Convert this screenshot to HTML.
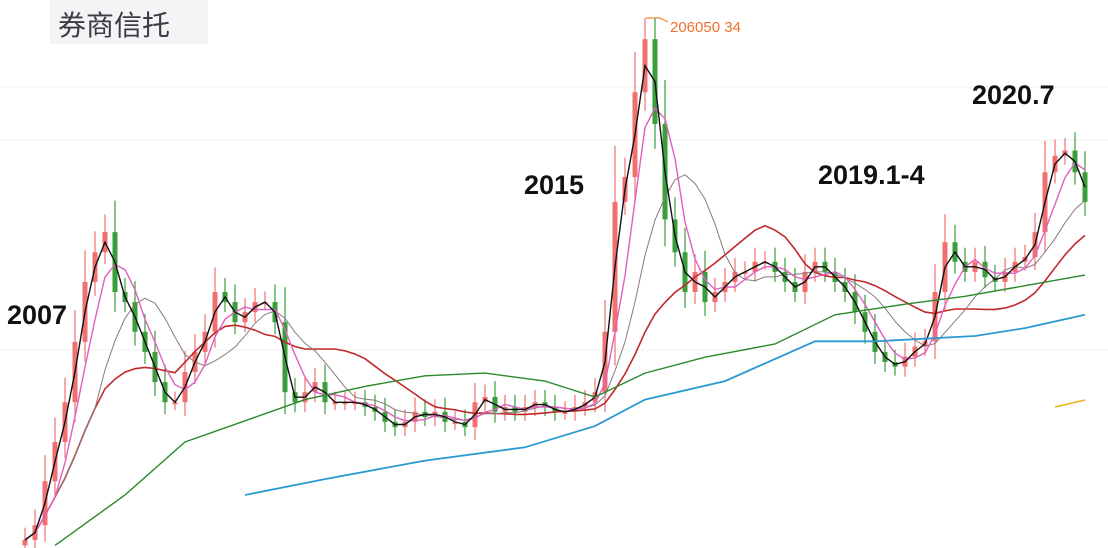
<!DOCTYPE html>
<html><head><meta charset="utf-8">
<style>
body{margin:0;width:1108px;height:548px;overflow:hidden;background:#fff;font-family:"Liberation Sans","Noto Sans CJK SC",sans-serif}
#title{position:absolute;left:50px;top:0;width:158px;height:44px;background:#f4f4f6;color:#3a3a40;font-size:28px;line-height:48px;padding-left:8px;box-sizing:border-box;font-family:"Noto Sans CJK SC",sans-serif}
.ann{position:absolute;font-size:27px;font-weight:bold;color:#111;font-family:"Liberation Sans",sans-serif}
</style></head><body>
<svg id="chart" width="1108" height="548" style="position:absolute;left:0;top:0"></svg>
<div id="title">券商信托</div>
<div class="ann" style="left:7px;top:300px">2007</div>
<div class="ann" style="left:524px;top:170px">2015</div>
<div class="ann" style="left:818px;top:160px">2019.1-4</div>
<div class="ann" style="left:972px;top:80px">2020.7</div>
<script>
// values in index units: 0 = bottom (y=548), 100 = peak (y=18)
const closes=[1.5,4.3,12.6,20,27.5,38.9,50.2,55.8,59.6,48.3,46.4,40.8,37,31.3,27.5,27.5,33.2,37,40.8,48.3,46.4,42.6,44.5,46.4,46.4,42.6,29.4,27.5,29.4,31.3,27.5,27.5,27.5,27.5,26.6,25.7,23.8,22.8,23.8,25.7,24.7,25.7,23.8,23.8,22.8,27.5,28.5,25.7,26.6,25.7,26.6,27.5,26.6,25.7,25.7,26.6,27.5,29.4,40.8,65.3,70,86,96,80,62,55.8,48.3,52.1,46.4,48.3,50.2,52.1,52.1,54,54,52.1,50.2,48.3,52.1,54,52.1,50.2,48.3,44.5,40.8,37,35.1,34.2,36.1,38,39,48.3,57.7,54,52.1,54,51.1,50.2,52.1,54,54.9,59.6,70.9,74,75,70.9,65.3];
const greenMA=[[3,0.5],[10,10],[16,20],[22,24],[28,28],[34,30.5],[40,32.5],[46,33],[52,31.5],[57,28.5],[62,33],[68,36],[75,38.5],[81,44],[88,46],[94,47.5],[100,49.5],[106,51.5]];
const blueMA=[[22,10],[30,13],[40,16.5],[50,19],[57,23],[62,28],[70,31.5],[79,39],[85,39],[95,40],[100,41.5],[106,44]];
const peakLabel="206050.34";
const svg=document.getElementById('chart');const NS='http://www.w3.org/2000/svg';
const X0=25,DX=10;
const xs=i=>X0+i*DX; const ys=v=>548-v*5.3;
function mk(t,a,p){const e=document.createElementNS(NS,t);for(const k in a)e.setAttribute(k,a[k]);(p||svg).appendChild(e);return e;}
[87,140,350].forEach(y=>{const g=mk('line',{x1:0,x2:1108,y1:y,y2:y,stroke:'#f2f2f2'});

});
const cg=mk('g',{});


closes.forEach((c,i)=>{const o=i?closes[i-1]:c-1;const up=c>=o;const col=up?'#f07070':'#3a9e3a';
 const d=Math.abs(c-o);
 const hi=Math.min(100,Math.max(o,c)+2+d*0.35),lo=Math.min(o,c)-1.5-d*0.2;
 const w=mk('line',{x1:xs(i),x2:xs(i),y1:ys(hi),y2:ys(lo),stroke:col,'stroke-width':1.2},cg);
 
 
 const top=ys(Math.max(o,c)),h=Math.max(2,Math.abs(ys(o)-ys(c)));
 const r=mk('rect',{x:xs(i)-2.5,y:top,width:5,height:h,fill:col},cg);
 
 });
function ma(n){return closes.map((_,i)=>{const s=closes.slice(Math.max(0,i-n+1),i+1);return s.reduce((a,b)=>a+b,0)/s.length;});}
function line(pts,col,name,w){const p=mk('polyline',{points:pts.map(q=>q[0].toFixed(1)+','+q[1].toFixed(1)).join(' '),fill:'none',stroke:col,'stroke-width':w||1.4});
 
 }
line(ma(16).map((v,i)=>[xs(i),ys(v)]),'#c0282a','ma-red',1.6);
line(ma(8).map((v,i)=>[xs(i),ys(v)]),'#8a7a7a','ma-gray',1);
line(ma(4).map((v,i)=>[xs(i),ys(v)]),'#e060c0','ma-pink',1.4);
line(ma(2).map((v,i)=>[xs(i),ys(v)]),'#111','ma-black',1.4);
line(greenMA.map(q=>[xs(q[0]),ys(q[1])]),'#2a8a2a','ma-green',1.4);
line(blueMA.map(q=>[xs(q[0]),ys(q[1])]),'#2a9ad0','ma-blue',1.8);
const gold=mk('line',{x1:1055,y1:407,x2:1085,y2:400,stroke:'#f0b020','stroke-width':1.6});


const pk=mk('path',{d:'M646 18 L660 18 L668 22',fill:'none',stroke:'#f08030','stroke-width':1.2});


const pt=mk('text',{x:670,y:32,fill:'#f07030','font-size':15,'font-family':'Liberation Sans'});
pt.textContent=peakLabel.replace('.',' ');


</script>
</body></html>
